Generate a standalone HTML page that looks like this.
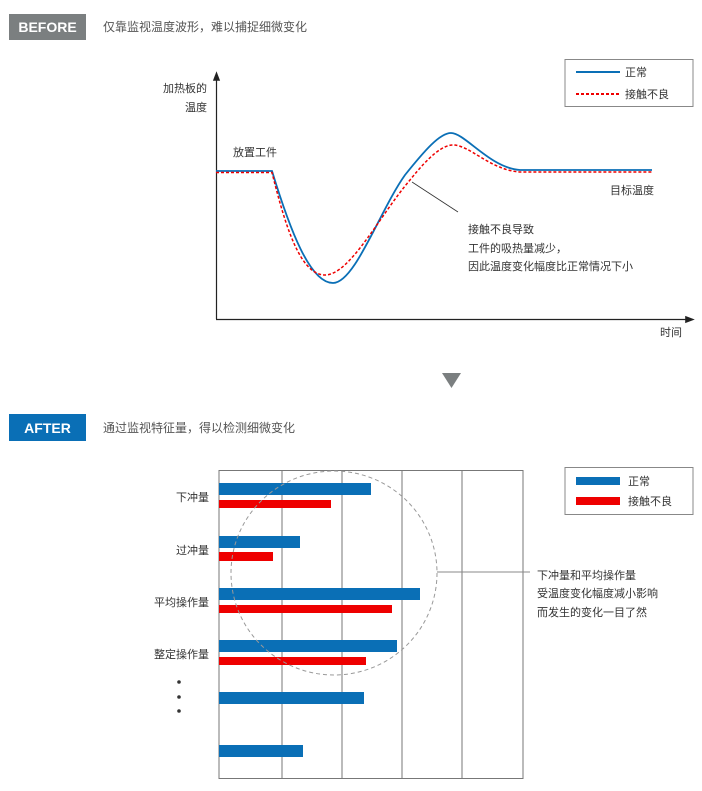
<!DOCTYPE html>
<html><head><meta charset="utf-8"><style>
body{margin:0;background:#fff;width:702px;height:791px;overflow:hidden}
svg{display:block}
text{font-family:"Liberation Sans","Noto Sans CJK SC",sans-serif;fill:#333;font-size:11px}
</style></head><body>
<svg width="702" height="791" viewBox="0 0 702 791">
<defs><marker id="ar" markerWidth="8" markerHeight="8" refX="4" refY="4" orient="auto"><path d="M0,1 L8,4 L0,7z" fill="#222"/></marker></defs>
<!-- BEFORE -->
<rect x="9" y="14" width="77" height="26" fill="#7b7f80"/>
<text x="47.5" y="32" text-anchor="middle" style="fill:#fff;font-weight:bold;font-size:14px">BEFORE</text>
<text x="103" y="31" style="font-size:12px;fill:#555">仅靠监视温度波形，难以捕捉细微变化</text>
<rect x="565" y="59.5" width="128" height="47" fill="none" stroke="#888" stroke-width="1"/>
<line x1="576" y1="72" x2="620" y2="72" stroke="#0a6fb6" stroke-width="2"/>
<text x="625" y="76">正常</text>
<line x1="576" y1="94" x2="620" y2="94" stroke="#e00" stroke-width="2" stroke-dasharray="3,2"/>
<text x="625" y="98">接触不良</text>
<line x1="216.5" y1="319" x2="216.5" y2="76" stroke="#222" stroke-width="1.2" marker-end="url(#ar)"/>
<line x1="216" y1="319.5" x2="690" y2="319.5" stroke="#222" stroke-width="1.2" marker-end="url(#ar)"/>
<text x="207" y="92" text-anchor="end">加热板的</text>
<text x="207" y="111" text-anchor="end">温度</text>
<text x="682" y="336" text-anchor="end">时间</text>
<text x="233" y="156">放置工件</text>
<text x="654" y="194" text-anchor="end">目标温度</text>
<text x="468" y="233">接触不良导致</text>
<text x="468" y="252">工件的吸热量减少，</text>
<text x="468" y="270">因此温度变化幅度比正常情况下小</text>
<path d="M216,171 L272,171 C290,230 310,283 333,283 C355,283 380,210 405,175 C425,150 440,133 451,133 C465,133 490,168 520,170 L652,170" fill="none" stroke="#0a6fb6" stroke-width="1.8"/>
<path d="M216,172.5 L272,172.5 C285,225 300,275 325,275 C350,275 380,215 410,180 C430,155 443,145 453,145 C470,145 490,170 520,172 L652,172" fill="none" stroke="#e00" stroke-width="1.5" stroke-dasharray="3,2"/>
<line x1="412" y1="182" x2="458" y2="212" stroke="#333" stroke-width="0.8"/>
<polygon points="442,373 461,373 451.5,388" fill="#7b7f80"/>
<!-- AFTER -->
<rect x="9" y="414" width="77" height="27" fill="#0a6fb6"/>
<text x="47.5" y="433" text-anchor="middle" style="fill:#fff;font-weight:bold;font-size:14px">AFTER</text>
<text x="103" y="432" style="font-size:12px;fill:#555">通过监视特征量，得以检测细微变化</text>
<rect x="219" y="470.5" width="304" height="308" fill="none" stroke="#777" stroke-width="1"/>
<g stroke="#777" stroke-width="1"><line x1="282" y1="470" x2="282" y2="778"/><line x1="342" y1="470" x2="342" y2="778"/><line x1="402" y1="470" x2="402" y2="778"/><line x1="462" y1="470" x2="462" y2="778"/></g>
<g fill="#0a6fb6"><rect x="219" y="483" width="152" height="12"/><rect x="219" y="536" width="81" height="12"/><rect x="219" y="588" width="201" height="12"/><rect x="219" y="640" width="178" height="12"/><rect x="219" y="692" width="145" height="12"/><rect x="219" y="745" width="84" height="12"/></g>
<g fill="#e00"><rect x="219" y="500" width="112" height="8"/><rect x="219" y="552" width="54" height="9"/><rect x="219" y="605" width="173" height="8"/><rect x="219" y="657" width="147" height="8"/></g>
<ellipse cx="334" cy="573" rx="103" ry="102" fill="none" stroke="#999" stroke-width="1" stroke-dasharray="4,3"/>
<line x1="437" y1="572" x2="530" y2="572" stroke="#888" stroke-width="1"/>
<text x="209" y="501" text-anchor="end">下冲量</text>
<text x="209" y="554" text-anchor="end">过冲量</text>
<text x="209" y="606" text-anchor="end">平均操作量</text>
<text x="209" y="658" text-anchor="end">整定操作量</text>
<g fill="#333"><circle cx="179" cy="682" r="1.8"/><circle cx="179" cy="697" r="1.8"/><circle cx="179" cy="711" r="1.8"/></g>
<text x="537" y="579">下冲量和平均操作量</text>
<text x="537" y="597">受温度变化幅度减小影响</text>
<text x="537" y="616">而发生的变化一目了然</text>
<rect x="565" y="467.5" width="128" height="47" fill="none" stroke="#888" stroke-width="1"/>
<rect x="576" y="477" width="44" height="8" fill="#0a6fb6"/>
<text x="628" y="485">正常</text>
<rect x="576" y="497" width="44" height="8" fill="#e00"/>
<text x="628" y="505">接触不良</text>
</svg>
</body></html>
